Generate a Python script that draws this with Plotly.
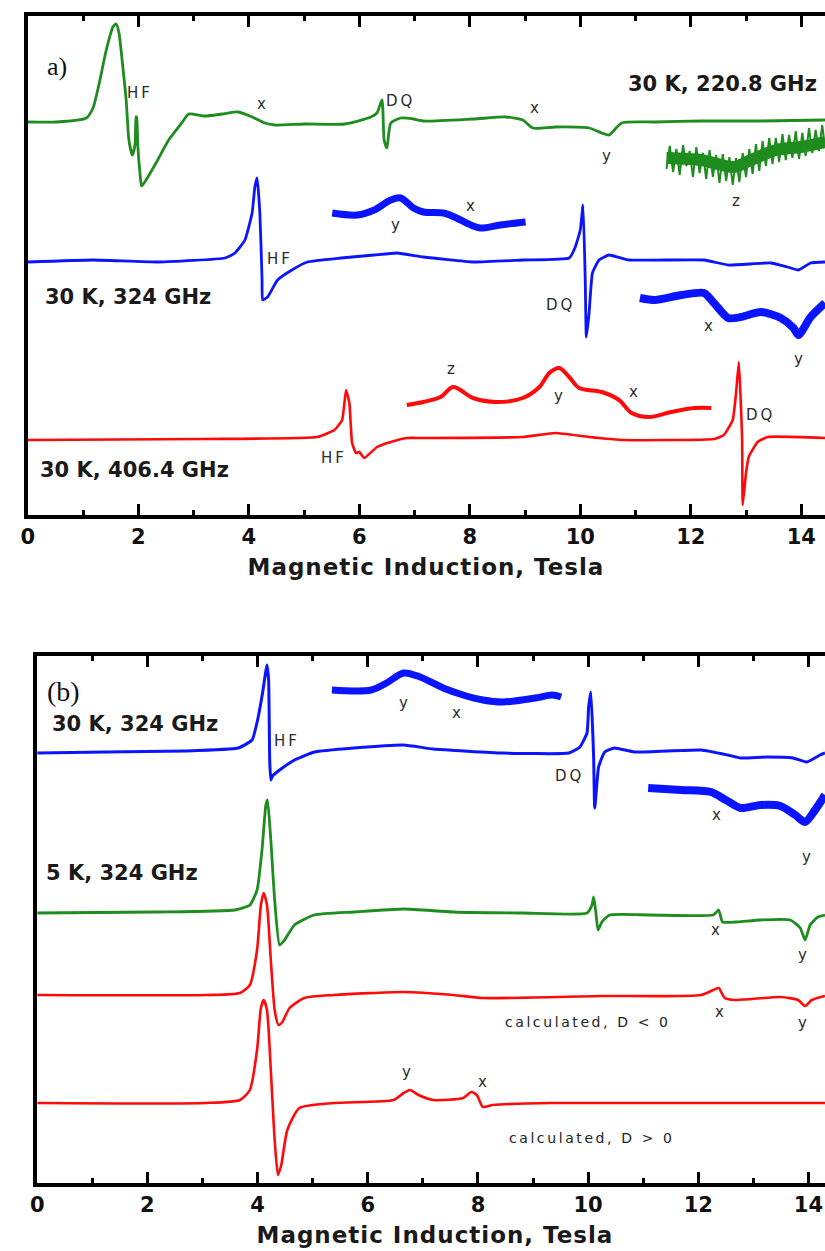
import plotly.graph_objects as go

W, H = 825, 1251

# ---------------- Panel a) : field (T) and intensity (arb. units) ----------------
g220_B = [0.00, 0.52, 1.06, 1.18, 1.29, 1.42, 1.54, 1.60, 1.65, 1.72, 1.78, 1.83, 1.89, 1.94, 1.96, 1.97,
          1.99, 2.03, 2.06, 2.14, 2.32, 2.55, 2.80, 2.91, 3.21, 3.52, 3.81, 4.06, 4.29, 4.47, 5.01, 5.73,
          6.21, 6.32, 6.41, 6.45, 6.50, 6.57, 6.75, 6.98, 7.16, 8.06, 8.65, 8.96, 9.14, 9.55, 10.16, 10.39,
          10.52, 10.75, 11.35, 12.19, 13.27, 14.43]
g220_I = [393, 393, 397, 407, 431, 465, 488, 491, 482, 448, 415, 375, 360, 370, 398, 398,
          370, 342, 329, 335, 352, 375, 393, 401, 399, 401, 403, 398, 392, 390, 391, 391,
          398, 402, 415, 375, 367, 392, 397, 396, 394, 396, 398, 395, 387, 388, 387, 382,
          380, 392, 393, 394, 394, 395]

# expanded z region (220.8 GHz): mean course and noisy excursions
g220z_B = [11.56, 12.19, 12.78, 13.09, 13.54, 13.99, 14.43]
g220z_I = [357, 355, 348, 355, 365, 368, 373]

g220zn_B = [11.56, 11.62, 11.68, 11.74, 11.80, 11.86, 11.92, 11.98, 12.04, 12.10, 12.16, 12.22, 12.28,
            12.34, 12.40, 12.46, 12.52, 12.58, 12.64, 12.70, 12.76, 12.82, 12.88, 12.94, 13.00, 13.06,
            13.12, 13.18, 13.24, 13.30, 13.36, 13.42, 13.48, 13.54, 13.60, 13.66, 13.72, 13.78, 13.84,
            13.90, 13.96, 14.02, 14.08, 14.14, 14.20, 14.26, 14.32, 14.38, 14.43]
g220zn_I = [346, 369, 343, 366, 340, 370, 349, 364, 338, 368, 342, 362, 336,
            365, 338, 360, 332, 361, 334, 358, 330, 357, 333, 362, 338, 366,
            341, 371, 344, 374, 349, 377, 351, 377, 353, 381, 355, 380, 357,
            384, 356, 382, 359, 387, 362, 385, 364, 390, 368]

b324_B = [0.00, 1.18, 2.37, 3.57, 3.75, 3.93, 4.06, 4.11, 4.15, 4.20, 4.24, 4.25, 4.34, 4.52, 4.78, 5.06,
          5.67, 6.27, 6.68, 7.16, 8.06, 8.96, 9.80, 9.91, 10.00, 10.05, 10.09, 10.11, 10.16, 10.22, 10.34,
          10.52, 10.88, 12.24, 12.68, 13.45, 13.75, 13.95, 14.17, 14.43]
b324_I = [253, 255, 253, 257, 262, 275, 302, 328, 337, 302, 235, 215, 218, 235, 245, 253,
          257, 260, 262, 258, 253, 255, 257, 268, 285, 310, 235, 178, 202, 242, 255,
          260, 255, 255, 250, 252, 248, 245, 252, 253]

b324i1_B = [5.51, 5.96, 6.27, 6.57, 6.75, 6.98, 7.16, 7.52, 7.76, 7.94, 8.19, 8.55, 9.01]
b324i1_I = [302, 300, 305, 315, 317, 307, 303, 302, 297, 292, 287, 290, 293]

b324i2_B = [11.08, 11.35, 11.83, 12.24, 12.42, 12.68, 12.91, 13.27, 13.63, 13.86, 13.95, 14.17, 14.43]
b324i2_I = [217, 215, 220, 222, 212, 197, 198, 203, 197, 187, 180, 198, 212]

r406_B = [0.00, 3.21, 5.24, 5.55, 5.69, 5.76, 5.82, 5.87, 5.94, 6.00, 6.09, 6.32, 6.57, 6.86, 7.16, 8.96,
          9.55, 10.16, 10.81, 12.42, 12.60, 12.76, 12.82, 12.87, 12.93, 12.94, 13.00, 13.05, 13.21, 13.39, 14.43]
r406_I = [75, 76, 78, 85, 95, 125, 112, 72, 62, 63, 57, 68, 73, 77, 77, 78,
          82, 78, 75, 76, 80, 95, 122, 153, 75, 10, 42, 58, 73, 78, 77]

r406i_B = [6.86, 7.16, 7.47, 7.70, 8.06, 8.47, 8.96, 9.26, 9.44, 9.62, 9.80, 9.98, 10.39, 10.70, 10.93,
           11.24, 11.65, 12.06, 12.37]
r406i_I = [110, 113, 118, 128, 117, 113, 117, 128, 142, 147, 138, 127, 123, 115, 102,
           98, 103, 107, 107]

# ---------------- Panel (b) ----------------
bb_B = [0.00, 1.25, 2.69, 3.65, 3.90, 4.00, 4.09, 4.17, 4.20, 4.22, 4.24, 4.27, 4.40, 4.67, 5.03, 5.75,
        6.65, 7.19, 8.45, 9.65, 9.85, 9.98, 10.01, 10.05, 10.10, 10.12, 10.19, 10.30, 10.48, 10.84, 12.05,
        12.53, 12.77, 13.25, 13.72, 13.97, 14.21, 14.30]
bb_I = [430, 431, 432, 435, 443, 463, 490, 518, 503, 423, 403, 407, 413, 423, 431, 435,
        438, 434, 430, 430, 436, 450, 476, 491, 426, 375, 416, 431, 435, 431, 433,
        428, 425, 426, 425, 421, 428, 430]

bbi1_B = [5.35, 6.06, 6.34, 6.65, 6.95, 7.37, 7.73, 8.09, 8.45, 9.04, 9.35, 9.51]
bbi1_I = [493, 493, 500, 510, 506, 495, 488, 483, 481, 485, 488, 486]

bbi2_B = [11.09, 11.69, 12.23, 12.50, 12.77, 13.13, 13.49, 13.76, 13.94, 14.12, 14.30]
bbi2_I = [395, 393, 391, 383, 375, 378, 377, 368, 361, 373, 388]

g5_B = [0.00, 2.15, 3.59, 3.86, 3.99, 4.08, 4.15, 4.18, 4.24, 4.31, 4.40, 4.49, 4.67, 5.03, 5.75, 6.65,
        7.55, 8.81, 9.98, 10.07, 10.10, 10.14, 10.18, 10.25, 10.39, 11.15, 12.27, 12.37, 12.44, 12.68,
        13.13, 13.67, 13.85, 13.94, 14.03, 14.17, 14.30]
g5_I = [270, 271, 273, 278, 293, 333, 378, 383, 343, 283, 238, 243, 258, 268, 271, 274,
        271, 270, 270, 278, 286, 271, 253, 261, 268, 268, 268, 273, 261, 261,
        263, 263, 255, 243, 258, 266, 268]

cneg_B = [0.00, 3.06, 3.68, 3.86, 3.99, 4.06, 4.11, 4.17, 4.24, 4.31, 4.38, 4.45, 4.58, 4.85, 5.39, 6.65,
          7.55, 8.09, 10.25, 12.05, 12.27, 12.37, 12.48, 12.68, 13.49, 13.81, 13.94, 14.06, 14.30]
cneg_I = [188, 188, 190, 198, 233, 278, 290, 278, 223, 173, 158, 161, 175, 185, 188, 191,
          188, 185, 187, 188, 193, 195, 185, 183, 186, 183, 177, 183, 187]

cpos_B = [0.00, 3.06, 3.68, 3.86, 3.99, 4.06, 4.11, 4.17, 4.24, 4.31, 4.37, 4.43, 4.54, 4.76, 5.39, 6.47,
          6.65, 6.77, 6.92, 7.19, 7.73, 7.88, 7.98, 8.09, 8.27, 9.35, 14.30]
cpos_I = [80, 80, 83, 93, 133, 175, 183, 173, 113, 43, 8, 18, 53, 75, 80, 83,
          90, 93, 88, 83, 85, 91, 88, 76, 78, 80, 80]

GREEN = "#1e8c1e"
BLUE = "#0a14ff"
RED = "#ff0a0a"

fig = go.Figure()


def add(x, y, color, width, axis, smooth=0.6, shape="spline"):
    xa, ya = ("x", "y") if axis == 1 else ("x2", "y2")
    line = dict(color=color, width=width, shape=shape)
    if shape == "spline":
        line["smoothing"] = smooth
    fig.add_trace(go.Scatter(x=x, y=y, mode="lines", line=line,
                             xaxis=xa, yaxis=ya, showlegend=False, hoverinfo="skip"))


# panel a
add(g220_B, g220_I, GREEN, 2.8, 1)
add(g220z_B, g220z_I, GREEN, 12, 1, 0.8)
add(g220zn_B, g220zn_I, GREEN, 2, 1, shape="linear")
add(b324_B, b324_I, BLUE, 2.8, 1, 0.4)
add(b324i1_B, b324i1_I, BLUE, 7, 1, 0.9)
add(b324i2_B, b324i2_I, BLUE, 8, 1, 0.7)
add(r406_B, r406_I, RED, 2.6, 1, 0.4)
add(r406i_B, r406i_I, RED, 4, 1, 0.9)
# panel b
add(bb_B, bb_I, BLUE, 3, 2, 0.4)
add(bbi1_B, bbi1_I, BLUE, 7, 2, 0.9)
add(bbi2_B, bbi2_I, BLUE, 8, 2, 0.7)
add(g5_B, g5_I, GREEN, 2.8, 2, 0.5)
add(cneg_B, cneg_I, RED, 2.6, 2, 0.6)
add(cpos_B, cpos_I, RED, 2.6, 2, 0.6)

TICKFONT = dict(family="DejaVu Sans", size=21, color="#111111", weight="bold")


def xaxis_cfg(left_px, rng):
    return dict(domain=[left_px / W, 1.0], range=rng, showline=True, linewidth=3.5, linecolor="black",
                mirror="ticks", ticks="inside", ticklen=11, tickwidth=3, tickcolor="black",
                tick0=0, dtick=2, showgrid=False, zeroline=False, tickfont=TICKFONT,
                minor=dict(dtick=1, ticks="inside", ticklen=5, tickwidth=3, tickcolor="black", showgrid=False))


def yaxis_cfg(top_px, bot_px, rng):
    return dict(domain=[1 - bot_px / H, 1 - top_px / H], range=rng, showline=True, linewidth=3.5,
                linecolor="black", showticklabels=False, ticks="", showgrid=False, zeroline=False)


fig.update_layout(
    width=W, height=H, margin=dict(l=0, r=0, t=0, b=0),
    paper_bgcolor="white", plot_bgcolor="white",
    xaxis=dict(**xaxis_cfg(21, [0, 14.43]), anchor="y"),
    yaxis=dict(**yaxis_cfg(16, 515, [0, 499]), anchor="x"),
    xaxis2=dict(**xaxis_cfg(30.5, [0, 14.30]), anchor="y2"),
    yaxis2=dict(**yaxis_cfg(656, 1183, [0, 527]), anchor="x2"),
)

LAB = dict(family="DejaVu Sans", size=15, color="#2b2b2b")
BIG = dict(family="DejaVu Sans", size=21, color="#1a1a1a", weight="bold")
SERIF = dict(family="Liberation Serif", size=26, color="#111111")
CALC = dict(family="DejaVu Sans", size=14, color="#222222")
TITLE = dict(family="DejaVu Sans", size=23, color="#1a1a1a", weight="bold")

labels = [
    # panel a
    ("a)", 50, 67, SERIF),
    ("HF", 134, 93, LAB), ("x", 257, 104, LAB), ("DQ", 397, 101, LAB), ("x", 532, 108, LAB),
    ("y", 605, 156, LAB), ("30 K, 220.8 GHz", 722, 84, BIG), ("z", 735, 201, LAB),
    ("y", 392, 225, LAB), ("x", 467, 206, LAB), ("HF", 275, 259, LAB), ("30 K, 324 GHz", 122, 297, BIG),
    ("DQ", 558, 305, LAB), ("x", 708, 326, LAB), ("y", 798, 359, LAB),
    ("z", 448, 369, LAB), ("y", 556, 396, LAB), ("x", 632, 392, LAB), ("DQ", 760, 415, LAB),
    ("HF", 330, 458, LAB), ("30 K, 406.4 GHz", 129, 470, BIG),
    ("Magnetic Induction, Tesla", 423, 567, TITLE),
    # panel b
    ("(b)", 57, 691, dict(SERIF, size=28)), ("30 K, 324 GHz", 129, 724, BIG), ("HF", 282, 741, LAB),
    ("y", 400, 703, LAB), ("x", 453, 713, LAB), ("DQ", 567, 776, LAB),
    ("x", 716, 815, LAB), ("y", 806, 857, LAB), ("5 K, 324 GHz", 116, 873, BIG),
    ("x", 715, 930, LAB), ("y", 802, 955, LAB),
    ("calculated, D < 0", 585, 1022, CALC), ("x", 719, 1012, LAB), ("y", 802, 1023, LAB),
    ("y", 403, 1072, LAB), ("x", 480, 1082, LAB), ("calculated, D > 0", 590, 1138, CALC),
    ("Magnetic Induction, Tesla", 432, 1235, TITLE),
]
for text, px, py, font in labels:
    fig.add_annotation(text=text, x=px / W, y=1 - py / H, xref="paper", yref="paper",
                       xanchor="center", yanchor="middle", showarrow=False, font=font)

POST = """
document.body.style.margin='0';
document.body.style.overflow='hidden';
var gd = document.getElementById('{plot_id}');
function spacing(){
  document.querySelectorAll('.annotation-text').forEach(function(t){
    var s = t.textContent;
    if (s.indexOf('calculated') === 0) { t.style.letterSpacing = '2.6px'; }
    else if (s.indexOf('Magnetic') === 0) { t.style.letterSpacing = '1px'; }
    else if (s === 'HF' || s === 'DQ') { t.style.letterSpacing = '3px'; }
  });
}
spacing();
setTimeout(spacing, 30);
if (gd && gd.on) { gd.on('plotly_afterplot', spacing); }
"""

fig.write_html("out.html", config={"displayModeBar": False}, post_script=POST)
